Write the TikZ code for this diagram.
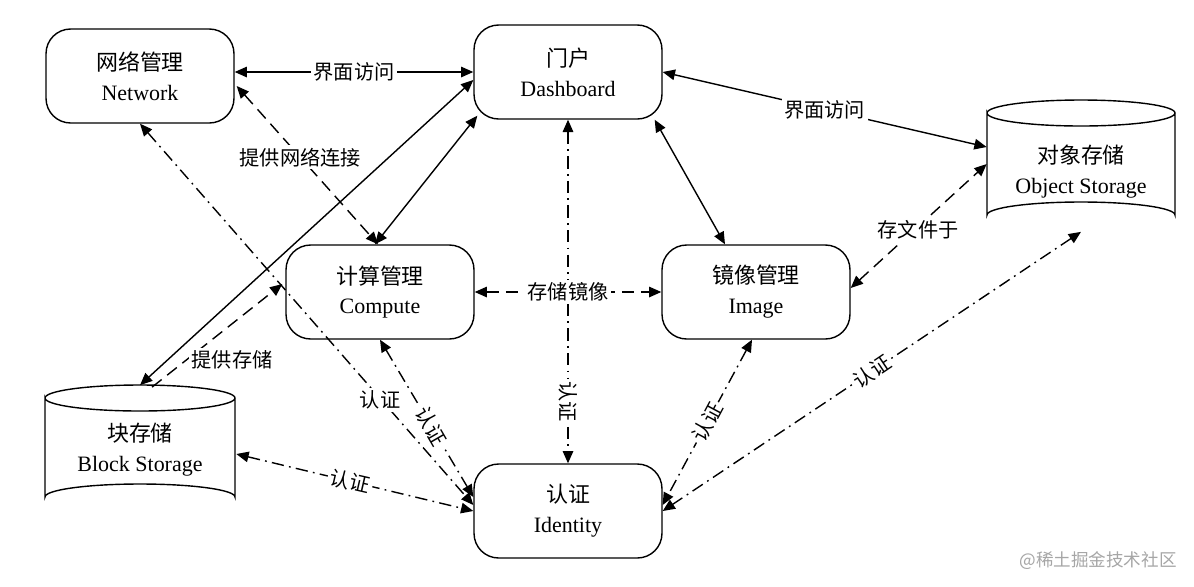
\documentclass[tikz,border=0pt]{standalone}
\usepackage{fontspec}
\setmainfont{Liberation Serif}
\newfontfamily\cjk{Noto Sans CJK SC}
\usetikzlibrary{arrows.meta,calc}
\begin{document}
\begin{tikzpicture}[x=0.02cm,y=-0.02cm,
  box/.style={draw,thick,rounded corners=14,minimum width=3.76cm,minimum height=1.88cm,align=center,font=\fontsize{12.5}{17}\selectfont},
  cyl/.style={minimum width=3.76cm,minimum height=2.5cm,align=center,font=\fontsize{12.5}{17}\selectfont},
  con/.style={thick,{Triangle[length=7pt,width=6pt]}-{Triangle[length=7pt,width=6pt]}},
  one/.style={thick,-{Triangle[length=7pt,width=6pt]}},
  dsh/.style={dash pattern=on 7pt off 4pt},
  dd/.style={dash pattern=on 7pt off 3pt on 1pt off 3pt},
  lab/.style={fill=white,inner sep=1.5pt,font=\cjk\fontsize{11.5}{13}\selectfont}]
\useasboundingbox (0,0) rectangle (1194,586);
\fill[white] (0,0) rectangle (1194,586);
\node[box] (net) at (140,76) {{\cjk 网络管理}\\Network};
\node[box] (dash) at (568,72) {{\cjk 门户}\\Dashboard};
\node[box] (comp) at (380,292) {{\cjk 计算管理}\\Compute};
\node[box] (img) at (756,292) {{\cjk 镜像管理}\\Image};
\node[box] (iden) at (568,511) {{\cjk 认证}\\Identity};
% cylinders
\draw[thick] (987,113) arc[start angle=180,end angle=360,x radius=94,y radius=13] arc[start angle=0,end angle=180,x radius=94,y radius=13] -- (987,215) arc[start angle=180,end angle=360,x radius=94,y radius=13] -- (1175,113);
\node[cyl] (obj) at (1081,172) {{\cjk 对象存储}\\Object Storage};
\draw[thick] (45,398) arc[start angle=180,end angle=360,x radius=95,y radius=13] arc[start angle=0,end angle=180,x radius=95,y radius=13] -- (45,497) arc[start angle=180,end angle=360,x radius=95,y radius=13] -- (235,398);
\node[cyl] (blk) at (140,450) {{\cjk 块存储}\\Block Storage};
% vertical dash-dot first (passes behind labels)
\draw[con,dd] (dash.south) -- node[lab,pos=.82,rotate=-90]{认证} (iden.north);
% solid
\draw[con] (net.east|-dash) -- node[lab]{界面访问} (dash.west);
\draw[con] (dash.east) -- node[lab]{界面访问} ($(obj.west)+(0,-25)$);
\draw[con] ($(dash.south west)+(4,-4)$) -- ($(comp.north)+(-5,0)$);
\draw[con] ($(dash.south east)+(-8,0)$) -- ($(img.north)+(-31,0)$);
\draw[con] ($(blk.north)+(0,-2)$) -- ($(dash.west)+(0,8)$);
% dashed
\draw[con,dsh] ($(net.east)+(2,10)$) -- node[lab,pos=.45]{提供网络连接} ($(comp.north)+(-2,0)$);
\draw[one,dsh] ($(blk.north)+(12,0)$) -- ($(comp.west)+(-3,-8)$);
\node[lab] (lb1) at (232,360) {提供存储};
\draw[con,dsh] (comp.east) -- node[lab]{存储镜像} (img.west);
\draw[con,dsh] ($(img.east)+(0,-4)$) -- ($(obj.west)+(0,-8)$);
\node[lab] (lb2) at (918,230) {存文件于};
% dash-dot
\draw[con,dd] (net.south) -- ($(iden.west)+(0,-6)$);
\node[lab] (lb3) at (380,400) {认证};
\draw[con,dd] (comp.south) -- node[lab,pos=.55,rotate=-60]{认证} ($(iden.west)+(0,-14)$);
\draw[con,dd] ($(blk.east)+(2,4)$) -- node[lab,pos=.48,rotate=-13]{认证} (iden.west);
\draw[con,dd] ($(img.south)+(-4,0)$) -- node[lab,pos=.5,rotate=62]{认证} ($(iden.east)+(0,-6)$);
\draw[con,dd] ($(obj.south)+(0,-3)$) -- node[lab,pos=.5,rotate=34]{认证} (iden.east);
\node[text=gray!70,font=\cjk\fontsize{10}{12}\selectfont] (wm) at (1098,561) {@稀土掘金技术社区};
\end{tikzpicture}
\end{document}
